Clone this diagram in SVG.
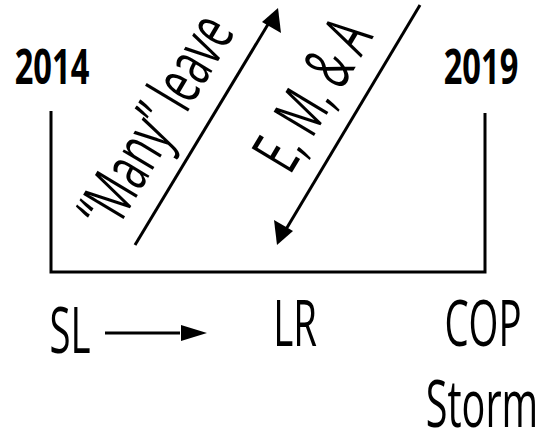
<svg xmlns="http://www.w3.org/2000/svg" width="545" height="431" viewBox="0 0 545 431">
  <style>
    .lbl { font-family: "Open Sans", "Liberation Sans", sans-serif; font-weight: 400; fill: #000; }
    .yr { font-family: "Open Sans", "Liberation Sans", sans-serif; font-weight: 700; fill: #000; font-size: 48px; }
    .ln { stroke: #000; stroke-width: 3; fill: none; }
  </style>
  <rect width="545" height="431" fill="#fff"/>

  <g id="timeline">
    <path class="ln" d="M51,111 V272 H485 V113"/>
  </g>

  <g id="year-2014">
    <text class="yr" transform="translate(52,84) scale(0.68,1)" text-anchor="middle">2014</text>
  </g>
  <g id="year-2019">
    <text class="yr" transform="translate(481,84) scale(0.68,1)" text-anchor="middle">2019</text>
  </g>

  <g id="connectors">
    <line class="ln" x1="135" y1="245" x2="270" y2="21"/>
    <path d="M278,8 L281,33 L262,22 Z" fill="#000"/>
    <line class="ln" x1="420" y1="5" x2="285" y2="231"/>
    <path d="M277,245 L274,220 L293,231 Z" fill="#000"/>
    <line class="ln" x1="105" y1="333" x2="180" y2="333"/>
    <path d="M207,333 L181,325 L181,341 Z" fill="#000"/>
  </g>

  <g id="many-leave">
    <text class="lbl" font-size="66" transform="translate(175,133) rotate(-59) scale(0.6,1)" text-anchor="middle">“Many” leave</text>
  </g>
  <g id="ema">
    <text class="lbl" font-size="66" transform="translate(332,106) rotate(-59) scale(0.6,1)" text-anchor="middle">E, M, &amp; A</text>
  </g>

  <g id="sl">
    <text class="lbl" font-size="64" transform="translate(70,353) scale(0.6,1)" text-anchor="middle">SL</text>
  </g>
  <g id="lr">
    <text class="lbl" font-size="64" transform="translate(295,346) scale(0.6,1)" text-anchor="middle">LR</text>
  </g>
  <g id="cop">
    <text class="lbl" font-size="64" transform="translate(483,346) scale(0.6,1)" text-anchor="middle">COP</text>
  </g>
  <g id="storm">
    <text class="lbl" font-size="66" transform="translate(482,427) scale(0.6,1)" text-anchor="middle">Storm</text>
  </g>
</svg>
